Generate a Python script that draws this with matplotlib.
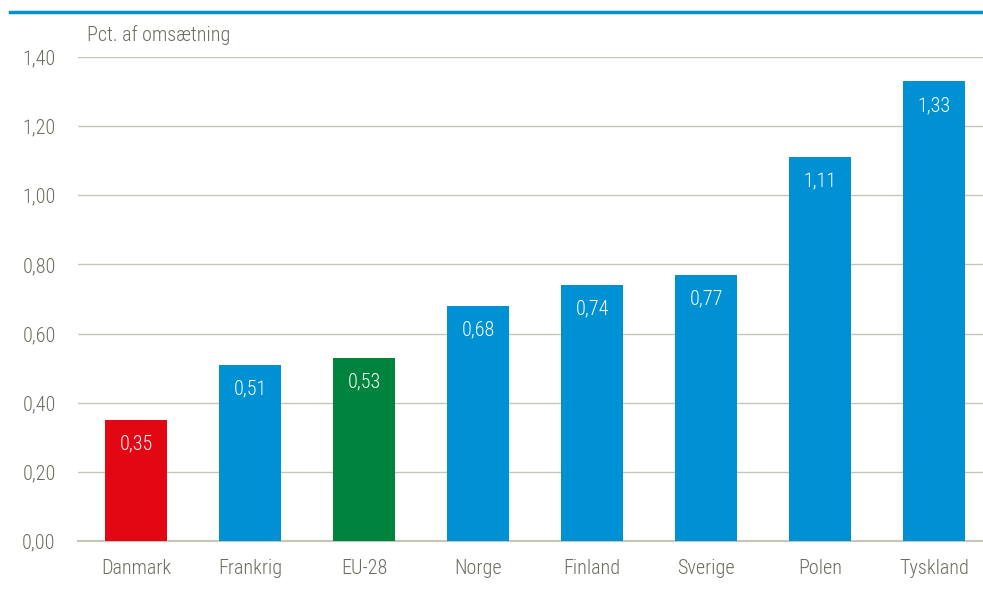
import matplotlib.pyplot as plt
from matplotlib import font_manager

# Andel af omsætning pr. land
lande = ['Danmark', 'Frankrig', 'EU-28', 'Norge', 'Finland', 'Sverige', 'Polen', 'Tyskland']
andel = [0.35, 0.51, 0.53, 0.68, 0.74, 0.77, 1.11, 1.33]
farver = ['#e30613', '#0090d4', '#00843d', '#0090d4', '#0090d4', '#0090d4', '#0090d4', '#0090d4']
yticks = [0.0, 0.2, 0.4, 0.6, 0.8, 1.0, 1.2, 1.4]

navne = {f.name for f in font_manager.fontManager.ttflist}
for kandidat in ['Liberation Sans Narrow', 'Roboto Condensed', 'Roboto', 'Liberation Sans']:
    if kandidat in navne:
        skrift = kandidat
        break
else:
    skrift = 'DejaVu Sans'
plt.rcParams['font.family'] = [skrift, 'DejaVu Sans']
plt.rcParams['font.weight'] = 'light'

tekstfarve = '#6b6b5e'
gitterfarve = '#c6c6b8'

fig = plt.figure(figsize=(9.83, 5.89), dpi=100)
ax = fig.add_axes([0.0793, 0.0815, 0.9207, 0.8217])

x = range(len(lande))
bars = ax.bar(x, andel, width=0.54, color=farver, zorder=3)

for b, v in zip(bars, andel):
    ax.text(b.get_x() + b.get_width() / 2, v - 0.07, f'{v:.2f}'.replace('.', ','),
            ha='center', va='center', color='white', fontsize=14.5, zorder=4)

ax.set_ylim(0, 1.4)
ax.set_xlim(-0.51, 7.43)
ax.set_yticks(yticks)
ax.set_yticklabels([f'{t:.2f}'.replace('.', ',') for t in yticks])
ax.set_xticks(list(x))
ax.set_xticklabels(lande)
ax.tick_params(axis='both', length=0, labelsize=14.5, colors=tekstfarve)
ax.tick_params(axis='y', pad=16)
ax.tick_params(axis='x', pad=13)
ax.grid(axis='y', color=gitterfarve, linewidth=1, zorder=0)
ax.axhline(0, color=gitterfarve, linewidth=1.5, zorder=2, clip_on=False)
for s in ax.spines.values():
    s.set_visible(False)

ax.text(0.01, 1.025, 'Pct. af omsætning', transform=ax.transAxes, color=tekstfarve,
        fontsize=14.5, ha='left', va='bottom')

# blå streg under overskriften
fig.add_artist(plt.Line2D([0.01, 1.0], [0.979, 0.979], color='#0090d4', linewidth=2.5))

fig.savefig('out.png', dpi=100)
